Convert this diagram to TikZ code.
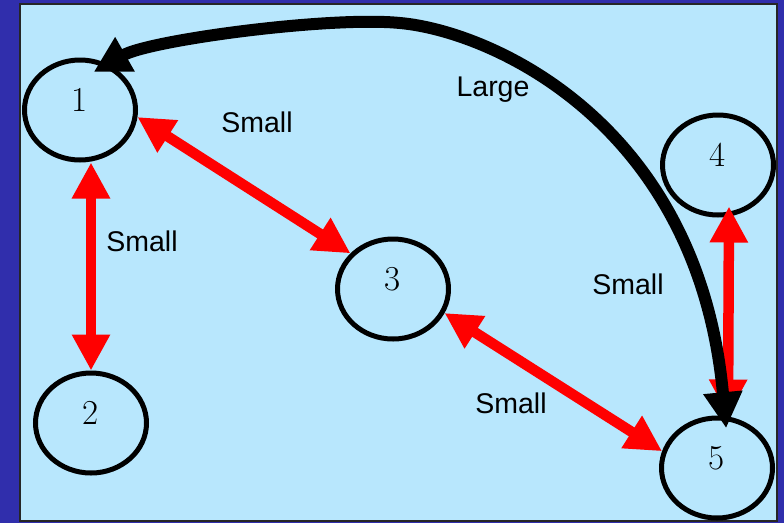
\documentclass[tikz,border=0pt]{standalone}
\usepackage{fontspec}
\newfontfamily\labelfont{Liberation Sans}
\usetikzlibrary{arrows.meta,shapes.geometric}
\definecolor{frameblue}{RGB}{48,46,172}
\definecolor{paneblue}{RGB}{184,231,253}

\begin{document}
\begin{tikzpicture}[x=1pt,y=-1pt,
state/.style={ellipse,draw=black,line width=5pt,minimum width=111pt,minimum height=100pt,
inner sep=0pt,text depth=20pt,font=\fontsize{35}{40}\selectfont},
small/.style={{Triangle[length=36pt,width=36pt]}-{Triangle[length=36pt,width=36pt]},draw=red,line width=10.5pt},
large/.style={{Triangle[length=36pt,width=37pt]}-{Triangle[length=36pt,width=37pt]},draw=black,line width=12pt},
cost/.style={font=\labelfont\fontsize{28.5}{32}\selectfont,anchor=base}]
\useasboundingbox (0,0) rectangle (784,523);
\fill[frameblue] (0,0) rectangle (784,523);
\filldraw[fill=paneblue,draw=black!85,line width=1.5pt] (20,4) rectangle (777,521);
% states
\node[state] (n1) at (80,110) {1};
\node[state] (n2) at (91,423) {2};
\node[state] (n3) at (393,289) {3};
\node[state] (n4) at (718,165) {4};
\node[state] (n5) at (717,468) {5};
% small links
\draw[small] (n1.south -| n2.north) -- (n2.north);
\draw[small] (n1.-7) -- (n3.140);
\draw[small] (n3.-25) -- (n5.163);
\draw[small] ([xshift=11pt,yshift=11pt]n4.south) -- ([xshift=11pt]n5.north);
% large link
\coordinate (crest) at (400,23);
\draw[large] ([yshift=-13pt]n1.75) .. controls (150,40) and (330,16) .. (crest)
  .. controls (490,31) and (698,122) .. ([yshift=-12pt]n5.80);
% labels
\node[cost] (lab-large) at (493,96) {Large};
\node[cost] (lab-13) at (257,132) {Small};
\node[cost] (lab-12) at (142,251) {Small};
\node[cost] (lab-45) at (628,294) {Small};
\node[cost] (lab-35) at (511,413) {Small};
\end{tikzpicture}
\end{document}
